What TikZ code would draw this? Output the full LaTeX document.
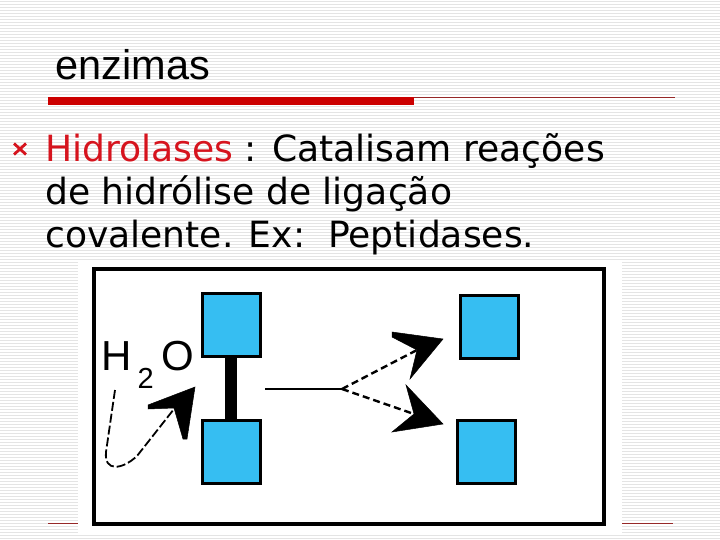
\documentclass[tikz,border=0pt]{standalone}
\usepackage{fontspec}
\setmainfont{DejaVu Sans}
\newfontfamily\arialf{Liberation Sans}
\definecolor{stripe}{RGB}{228,228,228}
\definecolor{barred}{RGB}{204,0,0}
\definecolor{linered}{RGB}{150,40,40}
\definecolor{txtred}{RGB}{214,20,30}
\definecolor{sqblue}{RGB}{54,190,242}
\tikzset{
  sq/.style={draw=black, line width=3pt, fill=sqblue, minimum width=58pt, minimum height=63pt, inner sep=0pt},
  bodytext/.style={anchor=base west, inner sep=0pt, font=\fontsize{36.1}{43}\selectfont},
  dashconn/.style={line width=2.4pt, dash pattern=on 7pt off 4pt},
  head/.style={fill=black, draw=black, line width=0.5pt, line join=miter}
}
\begin{document}
\begin{tikzpicture}[x=1pt, y=-1pt]
\useasboundingbox (0,0) rectangle (720,540);
% striped background
\foreach \yy in {1.5,4.5,...,540} \draw[stripe, line width=1.2pt] (0,\yy) -- (720,\yy);
% header line and bar
\draw[linered, line width=1pt] (414,97.5) -- (675,97.5);
\fill[barred] (48,97) rectangle (414,105);
% footer line
\draw[linered, line width=1.5pt] (48,523.5) -- (673,523.5);
% title
\node[anchor=base west, inner sep=0pt, font=\arialf\fontsize{41.5}{50}\selectfont] (title) at (55.5,80) {enzimas};
% bullet
\draw[txtred, line width=2.8pt] (14,143.5) -- (26,154.5) (26,143.5) -- (14,154.5);
% body text
\node[bodytext] (l1) at (45,161.3) {\textcolor{txtred}{Hidrolases} : Catalisam reações};
\node[bodytext] (l2) at (45,204.5) {de hidrólise de ligação};
\node[bodytext] (l3) at (45,247.7) {covalente. Ex:\ \ Peptidases.};
% picture area
\fill[white] (78,262) rectangle (622,533);
\draw[line width=3.8pt] (94,269) rectangle (604,524);
% squares
\node[sq] (tl) at (231,325) {};
\node[sq] (bl) at (231,452) {};
\node[sq] (tr) at (489,327) {};
\node[sq] (br) at (486,452) {};
% bond
\draw[line width=12pt] (tl.south) -- (bl.north);
% reaction arrow
\coordinate (hs) at (265,389);
\coordinate (split) at (342,389);
\coordinate (un) at (417,350);
\coordinate (ln) at (414,414);
\draw[line width=2pt] (hs) -- (split);
\draw[dashconn] (split) -- (un);
\draw[dashconn] (split) -- (ln);
\filldraw[head] (392,332) -- (443,339) -- (410,379) -- (417,350) -- (392,337) -- cycle;
\filldraw[head] (406,385) -- (443,424) -- (392,432) -- (414,414) -- cycle;
% H2O
\node[anchor=base west, inner sep=0pt, font=\arialf\fontsize{42}{50}\selectfont] (h) at (101,370) {H};
\node[anchor=base west, inner sep=0pt, font=\arialf\fontsize{29}{35}\selectfont] (two) at (137.5,388) {2};
\node[anchor=base west, inner sep=0pt, font=\arialf\fontsize{42}{50}\selectfont] (o) at (161,370) {O};
% curved water arrow
\coordinate (ws) at (115,390);
\coordinate (wn) at (174,409);
\draw[line width=1.8pt, dash pattern=on 9pt off 3pt] (ws) -- (106,452) .. controls (104,472) and (122,470) .. (137,456) -- (wn);
\filldraw[head] (195,387) -- (148,405) -- (148,409) -- (174,408) -- (183,439) -- (187,439) -- cycle;
\end{tikzpicture}
\end{document}
